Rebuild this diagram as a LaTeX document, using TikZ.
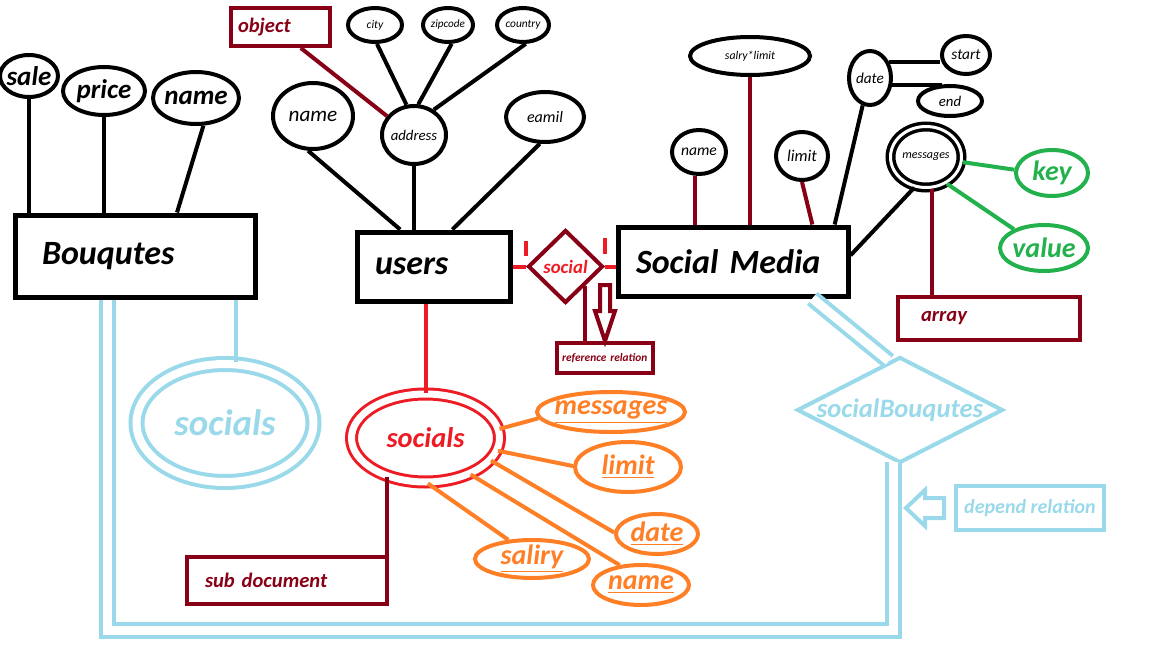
\documentclass[tikz,border=0pt]{standalone}
\usepackage{fontspec}
\setmainfont{Carlito}
\usetikzlibrary{shapes.geometric}
\definecolor{dkred}{RGB}{136,0,21}
\definecolor{redc}{RGB}{237,28,36}
\definecolor{orangec}{RGB}{255,127,39}
\definecolor{greenc}{RGB}{34,177,76}
\definecolor{lblue}{RGB}{153,217,234}
\newcommand{\fsz}[1]{\fontsize{#1}{#1}\selectfont}
\tikzset{
	attr/.style={draw, ellipse, line width=2pt, inner sep=-4pt, font=\itshape},
	battr/.style={attr, font=\bfseries\itshape\fsz{13.5}},
	oattr/.style={attr, draw=orangec, text=orangec, font=\bfseries\itshape\fsz{14}},
	gattr/.style={attr, draw=greenc, text=greenc, font=\bfseries\itshape\fsz{14}},
	ent/.style={draw, rectangle, line width=2.5pt, align=left, inner ysep=0pt, font=\bfseries\itshape\fsz{17}},
	tag/.style={draw=dkred, rectangle, line width=2pt, align=left, inner ysep=0pt, text=dkred, font=\bfseries\itshape\fsz{10.3}},
	link/.style={line width=2pt},
	dlink/.style={link, dkred},
	rlink/.style={link, redc},
	olink/.style={link, orangec},
	glink/.style={link, greenc},
	blink/.style={link, lblue},
	bdouble/.style={link, lblue, double=white, double distance=4.5pt}
}
\begin{document}
\begin{tikzpicture}[x=0.5pt, y=-0.5pt]
	\useasboundingbox (0,0) rectangle (1152,648);
	\node[ent, text width=93pt, inner xsep=13.5pt, minimum height=41pt] (bouq) at (135,256) {Bouqutes};
	\node[ent, text width=58.5pt, inner xsep=9pt, minimum height=34.5pt] (users) at (433.5,266.5) {users};
	\node[ent, text width=97pt, inner xsep=9pt, minimum height=34.5pt] (sm) at (733,261.5) {Social Media};
	\node[battr, minimum width=29pt, minimum height=21pt] (sale) at (29,76) {sale};
	\node[battr, minimum width=41pt, minimum height=24pt] (price) at (104,91) {price};
	\node[battr, minimum width=43pt, minimum height=26pt] (bname) at (196,98) {name};
	\node[attr, minimum width=40pt, minimum height=33pt, font=\itshape\fsz{10.6}] (uname) at (313,116) {name};
	\node[attr, minimum width=32pt, minimum height=29pt, font=\itshape\fsz{7.4}] (addr) at (414,135) {address};
	\node[attr, minimum width=39pt, minimum height=25pt, font=\itshape\fsz{8}] (eamil) at (545,117) {eamil};
	\node[attr, minimum width=27pt, minimum height=17pt, font=\itshape\fsz{5.8}] (city) at (375,25) {city};
	\node[attr, minimum width=25pt, minimum height=17pt, font=\itshape\fsz{5.6}] (zip) at (448,25) {zipcode};
	\node[attr, minimum width=26pt, minimum height=17pt, font=\itshape\fsz{5.7}] (country) at (523,25) {country};
	\node[tag, text width=42.5pt, inner xsep=3.5pt, minimum height=19pt] (obj) at (280.5,27) {object};
	\node[attr, minimum width=27pt, minimum height=22pt, font=\itshape\fsz{7.8}] (sname) at (699,152) {name};
	\node[attr, minimum width=60pt, minimum height=19pt, font=\itshape\fsz{5.9}] (salry) at (750,56) {salry*limit};
	\node[attr, minimum width=26pt, minimum height=24pt, font=\itshape\fsz{8.2}] (limit) at (802,156) {limit};
	\node[attr, minimum width=21pt, minimum height=27pt, font=\itshape\fsz{7.6}] (date) at (870,78) {date};
	\node[attr, minimum width=24pt, minimum height=19pt, font=\itshape\fsz{7.7}] (start) at (966,55) {start};
	\node[attr, minimum width=32pt, minimum height=15pt, font=\itshape\fsz{7.4}] (end) at (950,101) {end};
	\node[attr, double, line width=1.75pt, double distance=1.5pt, minimum width=35.5pt, minimum height=30.5pt, font=\itshape\fsz{6}] (msg) at (926,157) {messages};
	\node[gattr, minimum width=36pt, minimum height=23pt] (key) at (1052,173) {key};
	\node[gattr, minimum width=44pt, minimum height=23pt] (value) at (1044,248) {value};
	\node[tag, text width=68pt, inner xsep=11.5pt, minimum height=21.5pt] (array) at (989,318.5) {array};
	\node[draw=dkred, diamond, line width=2pt, inner sep=0pt, minimum width=37.5pt, minimum height=36.5pt, text=redc, font=\bfseries\itshape\fsz{9.4}] (social) at (565.5,266.5) {social};
	\node[tag, text width=43pt, inner xsep=2.5pt, minimum height=15pt, font=\bfseries\itshape\fsz{5.7}] (refbox) at (605,358) {reference relation};
	\node[attr, draw=redc, double, line width=1.5pt, double distance=3.5pt, minimum width=74pt, minimum height=44pt, text=redc, font=\bfseries\itshape\fsz{14.2}] (socials) at (425.5,438) {socials};
	\node[tag, text width=82pt, inner xsep=9pt, minimum height=23.5pt] (subdoc) at (287,580.5) {sub document};
	\node[oattr, minimum width=74pt, minimum height=20pt] (omsg) at (611,412) {\underline{messages}};
	\node[oattr, minimum width=53pt, minimum height=25pt] (olimit) at (628,467) {\underline{limit}};
	\node[oattr, minimum width=41pt, minimum height=20pt] (odate) at (657,534) {\underline{date}};
	\node[oattr, minimum width=57pt, minimum height=19pt] (osal) at (532,559) {\underline{saliry}};
	\node[oattr, minimum width=48pt, minimum height=20pt] (oname) at (641,585) {\underline{name}};
	\node[attr, draw=lblue, double, line width=2pt, double distance=4pt, minimum width=88.5pt, minimum height=59pt, text=lblue, font=\bfseries\itshape\fsz{18.4}] (bsoc) at (225,423) {socials};
	\node[draw=lblue, diamond, aspect=2, line width=2pt, inner sep=-2pt, minimum width=103pt, minimum height=53pt, text=lblue, font=\bfseries\itshape\fsz{13.3}] (sbq) at (900,410) {socialBouqutes};
	\node[draw=lblue, rectangle, line width=2pt, inner sep=1pt, minimum width=74pt, minimum height=22pt, text=lblue, font=\bfseries\itshape\fsz{10}] (dep) at (1030,508) {depend relation};
	\draw[link] (sale.south) -- (sale.south |- bouq.north);
	\draw[link] (price.south) -- (price.south |- bouq.north);
	\draw[link] (bname.-75) -- (bouq.46);
	\draw[link] (uname.-98) -- (users.132);
	\draw[link] (addr.south) -- (addr.south |- users.north);
	\draw[link] (eamil.-101) -- (users.63);
	\draw[link] (city.-84) -- (addr.104);
	\draw[link] (zip.-79) -- (addr.82);
	\draw[link] (country.-82) -- (addr.52);
	\draw[dlink] (obj.-46) -- (addr.145);
	\draw[dlink] (sname.-100) -- (sname.-100 |- sm.north);
	\draw[dlink] (salry.south) -- (salry.south |- sm.north);
	\draw[dlink] (limit.south) -- (sm.25);
	\draw[link] (date.-105) -- (sm.20);
	\draw[link] (msg.-111) -- (sm.3);
	\draw[link] (date.40) -- (date.40 -| start.west);
	\draw[link] (date.-18) -- (date.-18 -| end.115);
	\draw[glink] (msg.-8) -- (key.175);
	\draw[glink] (msg.-52) -- (value.148);
	\draw[dlink] (msg.-80) -- (msg.-80 |- array.north);
	\draw[rlink] (users.east) -- (social.west);
	\draw[rlink] (social.east) -- (social.east -| sm.west);
	\draw[rlink] (social.west) ++(0,-11) -- ++(0,-15);
	\draw[rlink] (social.east) ++(0,-13) -- ++(0,-16);
	\draw[dlink] (social.south east) -- (social.south east |- refbox.north);
	\draw[dlink] (refbox.north) -- ++(-10,-30) -- ++(5,0) -- ++(0,-26) -- ++(10,0) -- ++(0,26) -- ++(5,0) -- cycle;
	\draw[rlink] (socials.north |- users.south) -- (socials.north);
	\draw[dlink] (socials.-135) -- (socials.-135 |- subdoc.north);
	\draw[olink] (socials.7) -- (omsg.185);
	\draw[olink] (socials.-10) -- (olimit.179);
	\draw[olink] (socials.-19) -- (odate.178);
	\draw[olink] (socials.-39) -- (oname.137);
	\draw[olink] (socials.-87) -- (osal.141);
	\draw[blink] (bsoc.80) -- (bsoc.80 |- bouq.south);
	\draw[bdouble] ([xshift=47.5pt]bouq.south west) -- ++(0,331) -| ([xshift=-3.5pt,yshift=1.5pt]sbq.south);
	\draw[bdouble] (sm.-25) -- (sbq.103);
	\draw[blink] ([xshift=-24pt]dep.west) -- ++(19,-18) -- ++(0,8) -- ++(19,0) -- ++(0,20) -- ++(-19,0) -- ++(0,8) -- cycle;
\end{tikzpicture}
\end{document}
